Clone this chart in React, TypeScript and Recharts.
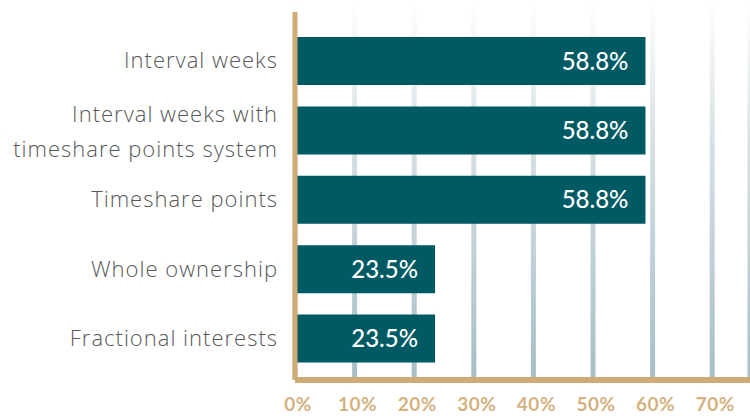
import React from 'react'
import { BarChart, Bar, XAxis, YAxis, CartesianGrid, LabelList } from 'recharts'

const categories = [
  'Interval weeks',
  'Interval weeks with\ntimeshare points system',
  'Timeshare points',
  'Whole ownership',
  'Fractional interests',
]
const shares = [58.8, 58.8, 58.8, 23.5, 23.5]
const xTicks = [0, 10, 20, 30, 40, 50, 60, 70]

const data = categories.map((name, i) => ({ name, share: shares[i] }))

const TAN = '#cfab76'
const TEAL = '#005a64'
const FONT = 'Lato, "Open Sans", sans-serif'
const LABEL_FONT = '"Open Sans", Lato, sans-serif'

const CategoryTick = (props: any) => {
  const { x, y, payload } = props
  const lines = String(payload.value).split('\n')
  const offsets = lines.length === 1 ? [0] : [-16, 19]
  return (
    <g>
      {lines.map((line, i) => (
        <text
          key={i}
          x={x}
          y={y + offsets[i]}
          dy="0.35em"
          textAnchor="end"
          fill="#585858"
          fontSize={22}
          fontWeight={300}
          letterSpacing={1}
          fontFamily={LABEL_FONT}
        >
          {line}
        </text>
      ))}
    </g>
  )
}

const ValueLabel = (props: any) => {
  const { x, y, width, height, value } = props
  return (
    <text
      x={x + width - 17}
      y={y + height / 2}
      dy="0.36em"
      textAnchor="end"
      fill="#ffffff"
      fontSize={24}
      fontWeight={500}
      fontFamily={FONT}
    >
      {`${Number(value).toFixed(1)}%`}
    </text>
  )
}

export default function App() {
  return (
    <div style={{ position: 'absolute', left: 0, top: 0, width: 750, height: 416, background: '#fff' }}>
      <BarChart
        width={750}
        height={416}
        data={data}
        layout="vertical"
        margin={{ top: 0, right: 0, bottom: 0, left: 0 }}
      >
        <defs>
          <linearGradient id="gridFade" gradientUnits="userSpaceOnUse" x1="0" y1="0" x2="0" y2="380">
            <stop offset="0%" stopColor="#ffffff" />
            <stop offset="35%" stopColor="#d9e2e6" />
            <stop offset="100%" stopColor="#a6bec7" />
          </linearGradient>
        </defs>
        <CartesianGrid horizontal={false} stroke="url(#gridFade)" strokeWidth={5} />
        <XAxis
          type="number"
          domain={[0, 76.34]}
          ticks={xTicks}
          allowDataOverflow
          height={36}
          axisLine={{ stroke: TAN, strokeWidth: 6 }}
          tickLine={false}
          tickMargin={12}
          tickFormatter={(v: number) => `${v}%`}
          tick={{ fill: '#d4b27f', fontSize: 19, fontWeight: 700, fontFamily: FONT, dx: 3, letterSpacing: 0.5 }}
        />
        <YAxis
          type="category"
          dataKey="name"
          width={295}
          padding={{ top: 26, bottom: 7 }}
          axisLine={{ stroke: TAN, strokeWidth: 5, strokeDasharray: '0 12 400' }}
          tickLine={false}
          tickMargin={11}
          tick={<CategoryTick />}
          interval={0}
        />
        <Bar dataKey="share" fill={TEAL} barSize={48} isAnimationActive={false}>
          <LabelList dataKey="share" content={<ValueLabel />} />
        </Bar>
      </BarChart>
    </div>
  )
}
